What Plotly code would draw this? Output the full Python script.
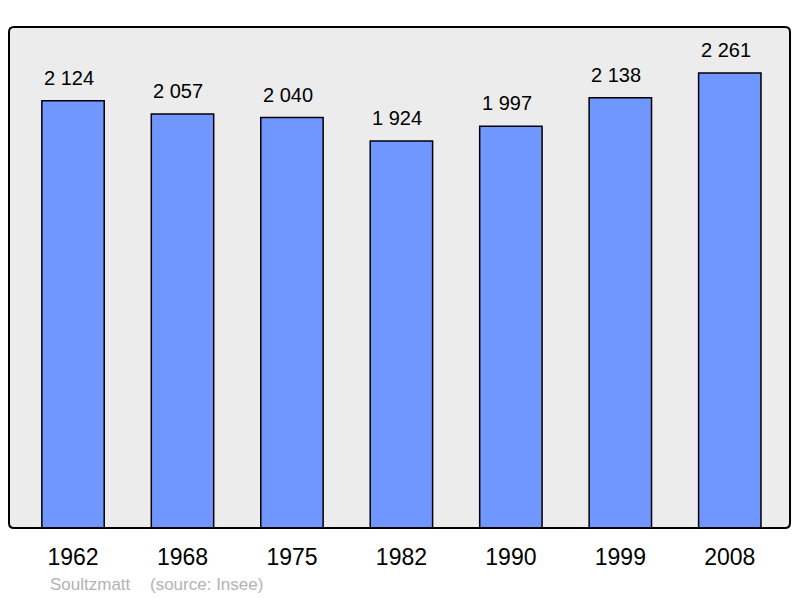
import plotly.graph_objects as go

# Population data (source: Insee)
years = ["1962", "1968", "1975", "1982", "1990", "1999", "2008"]
population = [2124, 2057, 2040, 1924, 1997, 2138, 2261]
town = "Soultzmatt"
source = "(source: Insee)"

BAR_COLOR = "#7096ff"
BG_COLOR = "#ececec"
FONT = "Liberation Sans, Arial"

# page puts the figure 8px in from the top-left corner
W, H = 792, 590
ML, MR, MT, MB = 1, 10, 19, 70


def fmt(v):
    # French style thousands separator
    return f"{v:,}".replace(",", " ")


x_pos = list(range(len(years)))

fig = go.Figure()

fig.add_trace(go.Bar(
    x=x_pos,
    y=population,
    width=0.57,
    marker=dict(color=BAR_COLOR, line=dict(color="black", width=1.5)),
    hoverinfo="skip",
))

# value labels above bars
for xi, v in zip(x_pos, population):
    fig.add_annotation(
        x=xi, y=v, text=fmt(v), showarrow=False,
        yanchor="bottom", yshift=10, xshift=-4,
        font=dict(family=FONT, size=20, color="black"),
    )

# footer (pixel positions converted to paper coords)
plot_w = W - ML - MR
plot_h = H - MT - MB
foot_y = (H - MB - 576) / plot_h
for px, txt in [(40, town), (140, source)]:
    fig.add_annotation(
        x=(px - ML) / plot_w, y=foot_y, xref="paper", yref="paper",
        text=txt, showarrow=False, xanchor="left", yanchor="middle",
        font=dict(family=FONT, size=17, color="#b3b3b3"),
    )

# frame around plot area, slightly rounded corners
rx, ry = 5 / plot_w, 5 / plot_h
frame = (
    f"M {rx},0 L {1 - rx},0 Q 1,0 1,{ry} L 1,{1 - ry} Q 1,1 {1 - rx},1 "
    f"L {rx},1 Q 0,1 0,{1 - ry} L 0,{ry} Q 0,0 {rx},0 Z"
)
fig.add_shape(
    type="path", xref="paper", yref="paper", path=frame,
    line=dict(color="black", width=2), layer="above",
)

fig.update_layout(
    width=W,
    height=H,
    margin=dict(l=ML, r=MR, t=MT, b=MB),
    paper_bgcolor="white",
    plot_bgcolor=BG_COLOR,
    showlegend=False,
)

fig.update_xaxes(
    tickmode="array", tickvals=x_pos, ticktext=years,
    range=[-0.585, 6.55],
    showgrid=False, zeroline=False, showline=False,
    ticks="outside", ticklen=0, ticklabelstandoff=8,
    tickfont=dict(family=FONT, size=23, color="black"),
)
fig.update_yaxes(
    range=[0, 2490], visible=False, showgrid=False, zeroline=False,
)

fig.write_html("out.html")
